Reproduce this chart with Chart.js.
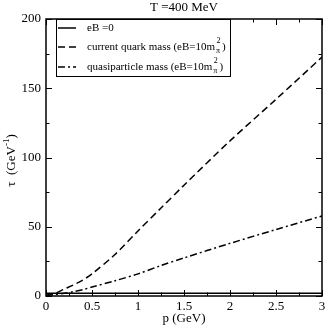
<!DOCTYPE html>
<html>
<head>
<meta charset="utf-8">
<script src="https://cdn.jsdelivr.net/npm/chart.js@4/dist/chart.umd.min.js"></script>
<style>
  html, body { margin: 0; padding: 0; background: #fff; }
  #wrap { width: 327px; height: 328px; }
</style>
</head>
<body>
<div id="wrap"><canvas id="chart" width="327" height="328"></canvas></div>
<script>
// momentum p (GeV)
const pValues = [0, 0.1, 0.2, 0.3, 0.4, 0.5, 0.75, 1, 1.25, 1.5, 2, 2.5, 3];
// relaxation time tau (GeV^-1)
const tauZeroField = [2, 2, 2, 2, 2, 2, 2, 2, 2, 2, 2, 2, 2];
const tauCurrentMass = [0.5, 2, 5, 8, 11.5, 16, 30, 47, 63.5, 80, 112, 142, 172.5];
const tauQuasiMass = [0.3, 1, 2, 3.1, 4.6, 6.5, 11, 16, 22, 27.5, 38, 48, 57.8];

const xTicks = [0, 0.5, 1, 1.5, 2, 2.5, 3];
const yTicks = [0, 50, 100, 150, 200];

const SERIF = "'Liberation Serif', 'DejaVu Serif', serif";

const toPoints = ys => pValues.map((p, i) => ({ x: p, y: ys[i] }));

// ticks inward on all four sides, the frame, titles and the legend
const framePlugin = {
  id: "frame",
  afterDraw(chart) {
    const { ctx, chartArea: a, scales } = chart;
    const xs = scales.x, ys = scales.y;
    ctx.save();
    ctx.strokeStyle = "#000";
    ctx.lineWidth = 1.5;
    ctx.strokeRect(a.left, a.top, a.right - a.left, a.bottom - a.top);

    ctx.lineWidth = 1;
    for (let v = 0; v <= 3.0001; v += 0.25) {
      const px = Math.round(xs.getPixelForValue(v)) + 0.5;
      const len = Math.abs(v * 2 - Math.round(v * 2)) < 1e-6 ? 6 : 3.5;
      ctx.beginPath();
      ctx.moveTo(px, a.bottom); ctx.lineTo(px, a.bottom - len);
      ctx.moveTo(px, a.top); ctx.lineTo(px, a.top + len);
      ctx.stroke();
    }
    for (let v = 0; v <= 200; v += 25) {
      const py = Math.round(ys.getPixelForValue(v)) + 0.5;
      const len = v % 50 === 0 ? 6 : 3.5;
      ctx.beginPath();
      ctx.moveTo(a.left, py); ctx.lineTo(a.left + len, py);
      ctx.moveTo(a.right, py); ctx.lineTo(a.right - len, py);
      ctx.stroke();
    }

    ctx.fillStyle = "#000";
    ctx.font = "13px " + SERIF;
    ctx.textAlign = "center";
    ctx.textBaseline = "middle";
    ctx.fillText("T =400 MeV", (a.left + a.right) / 2, 8);
    ctx.fillText("p (GeV)", (a.left + a.right) / 2, 319);

    // y axis title with superscript
    ctx.save();
    ctx.translate(12, (a.top + a.bottom) / 2 + 3);
    ctx.rotate(-Math.PI / 2);
    ctx.textAlign = "left";
    const t1 = "\u03C4  (GeV";
    const w1 = ctx.measureText(t1).width;
    ctx.font = "9px " + SERIF;
    const w2 = ctx.measureText("-1").width;
    ctx.font = "13px " + SERIF;
    const w3 = ctx.measureText(")").width;
    const start = -(w1 + w2 + w3) / 2;
    ctx.fillText(t1, start, 0);
    ctx.font = "9px " + SERIF;
    ctx.fillText("-1", start + w1, -5);
    ctx.font = "13px " + SERIF;
    ctx.fillText(")", start + w1 + w2, 0);
    ctx.restore();

    // legend box
    const lx = 56, ly = Math.round(a.top), lw = 174, lh = 57;
    ctx.fillStyle = "#fff";
    ctx.fillRect(lx, ly, lw, lh);
    ctx.lineWidth = 1;
    ctx.strokeStyle = "#000";
    ctx.strokeRect(lx + 0.5, ly + 0.5, lw, lh);

    const rows = [
      { y: 28, dash: [], label: "eB =0", mag: false },
      { y: 47, dash: [7, 4], label: "current quark mass (eB=10m", mag: true },
      { y: 67, dash: [7, 3, 2, 3], label: "quasiparticle mass (eB=10m", mag: true }
    ];
    ctx.fillStyle = "#000";
    rows.forEach(r => {
      ctx.lineWidth = 1.5;
      ctx.setLineDash(r.dash);
      ctx.beginPath();
      ctx.moveTo(58, r.y); ctx.lineTo(76, r.y);
      ctx.stroke();
      ctx.setLineDash([]);
      ctx.font = "11px " + SERIF;
      ctx.textAlign = "left";
      ctx.textBaseline = "middle";
      ctx.fillText(r.label, 87, r.y);
      if (r.mag) {
        let x = 87 + ctx.measureText(r.label).width;
        ctx.font = "8px " + SERIF;
        ctx.fillText("2", x + 1.5, r.y - 6);
        ctx.fillText("\u03C0", x + 1, r.y + 4);
        x += ctx.measureText("\u03C0").width + 3;
        ctx.font = "11px " + SERIF;
        ctx.fillText(")", x, r.y);
      }
    });
    ctx.restore();
  }
};

new Chart(document.getElementById("chart"), {
  type: "line",
  data: {
    datasets: [
      {
        label: "eB =0",
        data: toPoints(tauZeroField),
        borderColor: "#000",
        borderWidth: 1.5,
        pointRadius: 0
      },
      {
        label: "current quark mass",
        data: toPoints(tauCurrentMass),
        borderColor: "#000",
        borderWidth: 1.5,
        borderDash: [7, 4],
        pointRadius: 0,
        tension: 0.3
      },
      {
        label: "quasiparticle mass",
        data: toPoints(tauQuasiMass),
        borderColor: "#000",
        borderWidth: 1.5,
        borderDash: [7, 3, 2, 3],
        pointRadius: 0,
        tension: 0.3
      }
    ]
  },
  options: {
    responsive: false,
    animation: false,
    layout: { padding: { top: 19, right: 5, left: 0, bottom: 0 } },
    plugins: { legend: { display: false }, tooltip: { enabled: false } },
    scales: {
      x: {
        type: "linear",
        min: 0,
        max: 3,
        afterFit: s => { s.height = 32; },
        afterBuildTicks: s => { s.ticks = xTicks.map(v => ({ value: v })); },
        grid: { display: false },
        border: { display: false },
        ticks: {
          color: "#000",
          font: { family: SERIF, size: 13 },
          padding: -5,
          maxRotation: 0,
          callback: v => String(v)
        }
      },
      y: {
        min: 0,
        max: 200,
        afterFit: s => { s.width = 46; },
        afterBuildTicks: s => { s.ticks = yTicks.map(v => ({ value: v })); },
        grid: { display: false },
        border: { display: false },
        ticks: {
          color: "#000",
          font: { family: SERIF, size: 13 },
          padding: -3
        }
      }
    }
  },
  plugins: [framePlugin]
});
</script>
</body>
</html>
